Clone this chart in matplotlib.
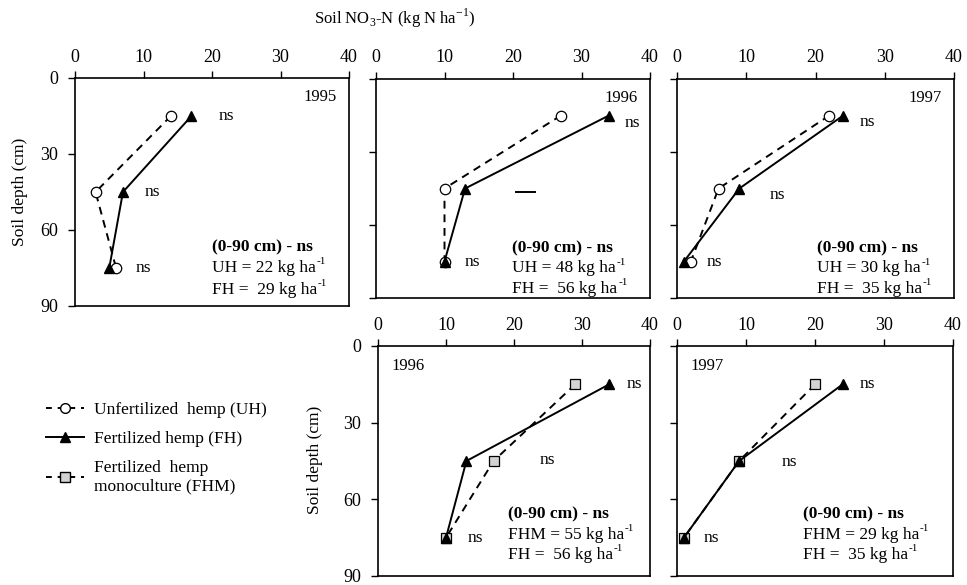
import numpy as np
import matplotlib
matplotlib.use('Agg')
import matplotlib.pyplot as plt
from matplotlib.lines import Line2D

plt.rcParams['font.family'] = 'Liberation Serif'
plt.rcParams['mathtext.fontset'] = 'custom'
plt.rcParams['mathtext.rm'] = 'Liberation Serif'
plt.rcParams['mathtext.bf'] = 'Liberation Serif:bold'

depth = [15, 45, 75]

# soil NO3-N (kg N/ha) per layer
uh_1995 = [14, 3, 6]
fh_1995 = [17, 7, 5]
uh_1996 = [27, 10, 10]
fh_1996 = [34, 13, 10]
uh_1997 = [22, 6, 2]
fh_1997 = [24, 9, 1]
fhm_1996 = [29, 17, 10]
fhm_1997 = [20, 9, 1]

totals = [("UH", 22, 29), ("UH", 48, 56), ("UH", 30, 35),
          ("FHM", 55, 56), ("FHM", 29, 35)]

# ns label positions (x, y) per panel
ns_pos = [
    [(21, 15), (10.2, 45), (8.9, 75)],
    [(36.3, 18), (13, 75)],
    [(26.4, 17.5), (13.4, 47.5), (4.3, 75)],
    [(36.6, 15), (23.8, 44.5), (13.1, 75)],
    [(26.4, 15), (15.2, 45.5), (3.8, 75)],
]

W, H = 967, 585
fig = plt.figure(figsize=(W / 100, H / 100), dpi=100)

def px_axes(l, t, r, b):
    return fig.add_axes([l / W, 1 - b / H, (r - l) / W, (b - t) / H])

axes = [
    px_axes(75, 78, 349, 306),
    px_axes(376, 79, 650, 298),
    px_axes(677, 79, 954, 298),
    px_axes(378, 346, 650, 576),
    px_axes(677, 346, 953, 576),
]

for i, ax in enumerate(axes):
    ax.set_xlim(0, 40)
    ax.set_ylim(90, 0)
    ax.xaxis.tick_top()
    ax.set_xticks([0, 10, 20, 30, 40])
    ax.set_yticks([0, 30, 60, 90])
    ax.tick_params(direction='out', length=5, width=1, labelsize=13, colors='black')
    ax.tick_params(axis='x', pad=4)
    ax.tick_params(axis='y', pad=7)
    if i not in (0, 3):
        ax.set_yticklabels([])
    for s in ax.spines.values():
        s.set_linewidth(1.2)
    ax.patch.set_alpha(0)

def plot_dashed(ax, x, marker, fc):
    ax.plot(x, depth, ls=(0, (4, 3)), color='black', lw=1.4, marker=marker,
            mfc=fc, mec='black', ms=7.5, mew=0.9, zorder=3)

def plot_solid(ax, x):
    ax.plot(x, depth, ls='-', color='black', lw=1.4, marker='^',
            mfc='black', mec='black', ms=7.5, zorder=4)

plot_dashed(axes[0], uh_1995, 'o', 'white'); plot_solid(axes[0], fh_1995)
plot_dashed(axes[1], uh_1996, 'o', 'white'); plot_solid(axes[1], fh_1996)
plot_dashed(axes[2], uh_1997, 'o', 'white'); plot_solid(axes[2], fh_1997)
plot_dashed(axes[3], fhm_1996, 's', '#d3d3d3'); plot_solid(axes[3], fh_1996)
plot_dashed(axes[4], fhm_1997, 's', '#d3d3d3'); plot_solid(axes[4], fh_1997)

# stray dash in the 1996 panel
axes[1].plot([20.5, 23.2], [46.5, 46.5], color='black', lw=1.4)

for ax, pos in zip(axes, ns_pos):
    for x, y in pos:
        ax.text(x, y, 'ns', fontsize=12.5, va='center', ha='left')

years = ['1995', '1996', '1997', '1996', '1997']
for i, (ax, yr) in enumerate(zip(axes, years)):
    if i < 3:
        ax.text(0.955, 0.915, yr, transform=ax.transAxes, ha='right', va='center', fontsize=12)
    else:
        ax.text(0.05, 0.915, yr, transform=ax.transAxes, ha='left', va='center', fontsize=12)

def kg_line(ax, x, y, s):
    t = ax.text(x, y, s, transform=ax.transAxes, fontsize=12.5, va='center')
    ax.annotate('-1', xy=(1, 0.62), xycoords=t, fontsize=8, va='bottom', ha='left',
                xytext=(0.5, 0), textcoords='offset points')

# stats block: x start (data), line positions (axes fraction)
stat_x = [20, 19.9, 20.2, 19.1, 18.2]
stat_y = [(0.259, 0.165, 0.07), (0.228, 0.135, 0.043), (0.228, 0.135, 0.043),
          (0.266, 0.178, 0.09), (0.266, 0.178, 0.09)]
for i, ax in enumerate(axes):
    lab, a, b = totals[i]
    y1, y2, y3 = stat_y[i]
    x0 = stat_x[i] / 40
    ax.text(x0, y1, '(0-90 cm) - ns', transform=ax.transAxes, fontsize=12.5,
            fontweight='bold', va='center')
    kg_line(ax, x0, y2, '%s = %d kg ha' % (lab, a))
    kg_line(ax, x0, y3, 'FH =  %d kg ha' % b)

fig.text(395 / W, 1 - 18 / H, 'Soil NO$_3$-N (kg N ha$^{-1}$)', ha='center',
         va='center', fontsize=12)
fig.text(20 / W, 1 - 192 / H, 'Soil depth (cm)', rotation=90, ha='center',
         va='center', fontsize=12.5)
fig.text(315 / W, 1 - 460 / H, 'Soil depth (cm)', rotation=90, ha='center',
         va='center', fontsize=12.5)

handles = [
    Line2D([], [], ls=(0, (3, 3)), color='black', lw=1.4, marker='o', mfc='white',
           mec='black', ms=7),
    Line2D([], [], ls='-', color='black', lw=1.4, marker='^', mfc='black', ms=7),
    Line2D([], [], ls=(0, (3, 3)), color='black', lw=1.4, marker='s', mfc='#d3d3d3',
           mec='black', ms=7),
]
labels = ['Unfertilized  hemp (UH)', 'Fertilized hemp (FH)',
          'Fertilized  hemp\nmonoculture (FHM)']
fig.legend(handles, labels, loc='upper left', bbox_to_anchor=(30 / W, 1 - 386 / H),
           frameon=False, fontsize=12.5, handlelength=2.2, labelspacing=0.75,
           handletextpad=0.6)

fig.savefig('out.png', dpi=100)
